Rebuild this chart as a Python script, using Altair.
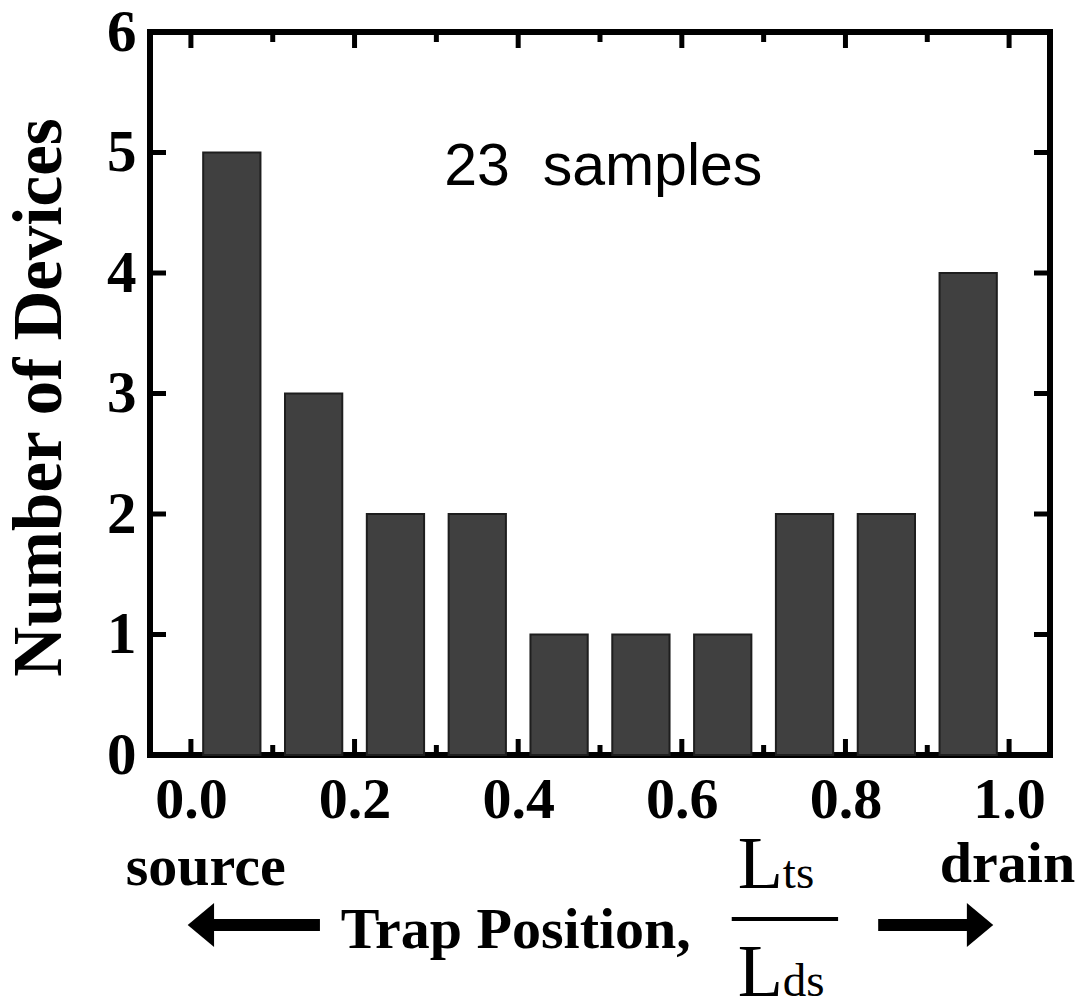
import altair as alt
import pandas as pd

# ---- data ----
bin_centers = [0.05, 0.15, 0.25, 0.35, 0.45, 0.55, 0.65, 0.75, 0.85, 0.95]
device_counts = [5, 3, 2, 2, 1, 1, 1, 2, 2, 4]
major_x_ticks = [0.0, 0.2, 0.4, 0.6, 0.8, 1.0]
minor_x_ticks = [0.1, 0.3, 0.5, 0.7, 0.9]
y_tick_values = [0, 1, 2, 3, 4, 5, 6]
y_inner_ticks = [1, 2, 3, 4, 5]

half_width = 0.035
bars = pd.DataFrame({
    "lo": [c - half_width for c in bin_centers],
    "hi": [c + half_width for c in bin_centers],
    "n": device_counts,
})

X_DOM = [-0.05, 1.05]
Y_DOM = [0, 6]
xs = alt.Scale(domain=X_DOM, nice=False, zero=False)
ys = alt.Scale(domain=Y_DOM, nice=False, zero=False)

SERIF = "Liberation Serif"
SANS = "Liberation Sans"

x_axis = alt.Axis(values=major_x_ticks, format=".1f", ticks=False, domain=False, grid=False,
                  labelFont=SERIF, labelFontWeight="bold", labelFontSize=58, labelColor="black",
                  labelPadding=16, labelFlush=False, labelOverlap=False, title=None)
y_axis = alt.Axis(values=y_tick_values, format="d", ticks=False, domain=False, grid=False,
                  labelFont=SERIF, labelFontWeight="bold", labelFontSize=59, labelColor="black",
                  labelPadding=14, labelFlush=False, labelOverlap=False,
                  title="Number of Devices", titleFont=SERIF, titleFontWeight="bold",
                  titleFontSize=69, titleColor="black", titleAngle=270, titleX=-90, titleY=365,
                  titleAlign="center", titleBaseline="alphabetic")


def X(f):
    return alt.X(f, type="quantitative", scale=xs, axis=x_axis)


def Y(f):
    return alt.Y(f, type="quantitative", scale=ys, axis=y_axis)


bar_layer = alt.Chart(bars).mark_rect(fill="#404040", stroke="#1e1e1e", strokeWidth=2).encode(
    x=X("lo"), x2="hi", y=Y("n"), y2=alt.datum(0)
)


# inward tick marks
def xticks(vals, yval, size, off):
    return alt.Chart(pd.DataFrame({"v": vals, "p": [yval] * len(vals)})).mark_tick(
        orient="vertical", size=size, thickness=5, color="black", yOffset=off, opacity=1
    ).encode(x=X("v"), y=Y("p"))


def yticks(vals, xval, size, off):
    return alt.Chart(pd.DataFrame({"v": vals, "p": [xval] * len(vals)})).mark_tick(
        orient="horizontal", size=size, thickness=5, color="black", xOffset=off, opacity=1
    ).encode(y=Y("v"), x=X("p"))


tick_layers = [
    xticks(major_x_ticks, 0, 16, -8),
    xticks(minor_x_ticks, 0, 10, -5),
    xticks(major_x_ticks, 6, 16, 8),
    xticks(minor_x_ticks, 6, 10, 5),
    yticks(y_inner_ticks, -0.05, 16, 8),
    yticks(y_inner_ticks, 1.05, 16, -8),
]


# annotations
def text(df, **kw):
    return alt.Chart(df).mark_text(color="black", **kw).encode(x=X("x"), y=Y("y"), text="t:N")


samples = text(pd.DataFrame({"x": [0.504], "y": [4.73], "t": ["23\u00a0\u00a0samples"]}),
               font=SANS, fontSize=59, align="center", baseline="alphabetic")
ends = text(pd.DataFrame({"x": [0.018, 0.998], "y": [-1.079, -1.054], "t": ["source", "drain"]}),
            font=SERIF, fontWeight="bold", fontSize=58, align="center", baseline="alphabetic")
trap = text(pd.DataFrame({"x": [0.183], "y": [-1.60], "t": ["Trap Position,"]}),
            font=SERIF, fontWeight="bold", fontSize=58, align="left", baseline="alphabetic")
big_L = text(pd.DataFrame({"x": [0.7235, 0.7235], "y": [-1.104, -2.0], "t": ["L", "L"]}),
             font=SERIF, fontSize=74, align="right", baseline="alphabetic")
subs = text(pd.DataFrame({"x": [0.7235, 0.7235], "y": [-1.104, -2.0], "t": ["ts", "ds"]}),
            font=SERIF, fontSize=47, align="left", baseline="alphabetic")

frac = alt.Chart(pd.DataFrame({"a": [0.661], "b": [0.791], "y": [-1.361]})).mark_rule(
    color="black", strokeWidth=4).encode(x=X("a"), x2="b", y=Y("y"))

arrows = pd.DataFrame({"a": [0.0257, 0.840], "b": [0.1577, 0.952], "y": [-1.411, -1.411]})
arrow_shafts = alt.Chart(arrows).mark_rule(color="black", strokeWidth=12).encode(
    x=X("a"), x2="b", y=Y("y"))
heads = pd.DataFrame({
    "x": [0.0122, 0.9645],
    "y": [-1.411, -1.411],
    "s": ["M -0.6 0 L 0.6 -1 L 0.6 1 Z", "M 0.6 0 L -0.6 -1 L -0.6 1 Z"],
})
arrow_heads = alt.Chart(heads).mark_point(filled=True, color="black", opacity=1, size=1936,
                                          strokeWidth=0).encode(
    x=X("x"), y=Y("y"), shape=alt.Shape("s:N", scale=None, legend=None))

chart = alt.layer(bar_layer, *tick_layers, samples, ends, trap, big_L, subs, frac,
                  arrow_shafts, arrow_heads).properties(
    width=900, height=723,
    autosize=alt.AutoSizeParams(type="none"),
    padding={"left": 150, "top": 32, "right": 30, "bottom": 252},
    background="white",
).configure_view(stroke="black", strokeWidth=6)

chart.save("out.html", embed_options={"renderer": "svg", "actions": False})
